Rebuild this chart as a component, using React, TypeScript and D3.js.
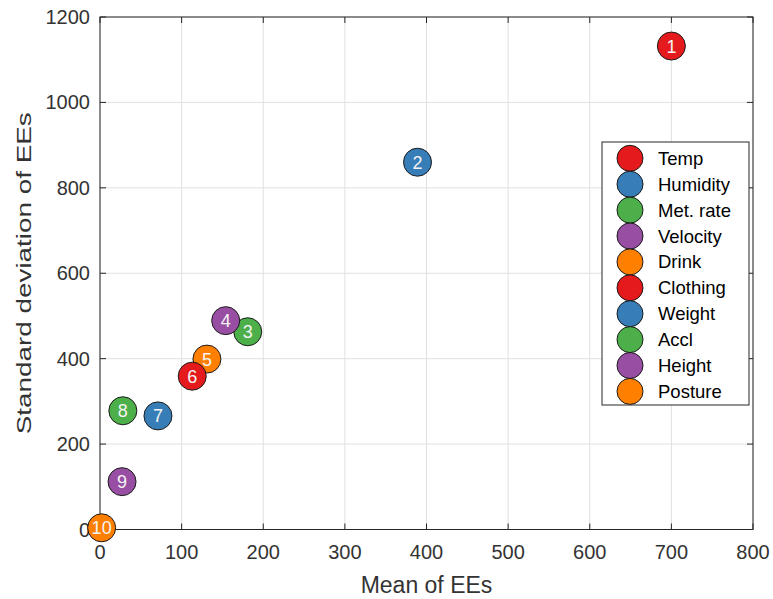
import { useRef, useEffect } from "react";
import * as d3 from "d3";

// factor names, in legend order
const factors = ["Temp", "Humidity", "Met. rate", "Velocity", "Drink", "Clothing", "Weight", "Accl", "Height", "Posture"];
// mean of elementary effects (x)
const meanEE = [700, 389, 181, 154, 131, 113, 71, 28, 27, 2];
// standard deviation of elementary effects (y)
const sdEE = [1132, 860, 463, 489, 399, 359, 266, 278, 112, 4];
const xTicks = [0, 100, 200, 300, 400, 500, 600, 700, 800];
const yTicks = [0, 200, 400, 600, 800, 1000, 1200];
const palette = ["#e41a1c", "#377eb8", "#4daf4a", "#984ea3", "#ff7f00"];

const W = 773;
const H = 599;
const margin = { top: 17, right: 20, bottom: 69.5, left: 100 };
const FONT = "'Liberation Sans', Arial, Helvetica, sans-serif";
const AXIS = "#262626";

export default function App() {
     const svgRef = useRef<SVGSVGElement | null>(null);

     useEffect(() => {
          const svg = d3.select(svgRef.current);
          svg.selectAll("*").remove();

          const x = d3.scaleLinear().domain([0, 800]).range([margin.left, W - margin.right]);
          const y = d3.scaleLinear().domain([0, 1200]).range([H - margin.bottom, margin.top]);
          const [x0, x1] = x.range();
          const [y0, y1] = y.range();

          // grid
          const grid = svg.append("g").attr("stroke", "#e0e0e0").attr("stroke-width", 1);
          grid.selectAll(".gx").data(xTicks).join("line")
               .attr("x1", d => x(d)).attr("x2", d => x(d))
               .attr("y1", y0).attr("y2", y1);
          grid.selectAll(".gy").data(yTicks).join("line")
               .attr("y1", d => y(d)).attr("y2", d => y(d))
               .attr("x1", x0).attr("x2", x1);

          // box + inward ticks on all sides
          const ax = svg.append("g").attr("stroke", AXIS).attr("stroke-width", 1).attr("fill", "none");
          ax.append("rect").attr("x", x0).attr("y", y1).attr("width", x1 - x0).attr("height", y0 - y1);
          const tl = 6;
          xTicks.forEach(t => {
               ax.append("line").attr("x1", x(t)).attr("x2", x(t)).attr("y1", y0).attr("y2", y0 - tl);
               ax.append("line").attr("x1", x(t)).attr("x2", x(t)).attr("y1", y1).attr("y2", y1 + tl);
          });
          yTicks.forEach(t => {
               ax.append("line").attr("y1", y(t)).attr("y2", y(t)).attr("x1", x0).attr("x2", x0 + tl);
               ax.append("line").attr("y1", y(t)).attr("y2", y(t)).attr("x1", x1).attr("x2", x1 - tl);
          });

          // tick labels
          svg.append("g").selectAll("text").data(xTicks).join("text")
               .attr("x", d => x(d)).attr("y", y0 + 29.5)
               .attr("text-anchor", "middle")
               .attr("font-family", FONT).attr("font-size", 20).attr("fill", "#333")
               .text(d => d);
          svg.append("g").selectAll("text").data(yTicks).join("text")
               .attr("x", x0 - 10).attr("y", d => y(d) + 7)
               .attr("text-anchor", "end")
               .attr("font-family", FONT).attr("font-size", 20).attr("fill", "#333")
               .text(d => d);

          // axis labels
          svg.append("text")
               .attr("x", x(400)).attr("y", 593)
               .attr("text-anchor", "middle")
               .attr("font-family", FONT).attr("font-size", 23).attr("fill", "#333")
               .text("Mean of EEs");
          svg.append("text")
               .attr("transform", `translate(31,${(y0 + y1) / 2}) rotate(-90)`)
               .attr("text-anchor", "middle")
               .attr("font-family", FONT).attr("font-size", 21).attr("fill", "#333")
               .attr("textLength", 322).attr("lengthAdjust", "spacingAndGlyphs")
               .text("Standard deviation of EEs");

          // points
          const pts = svg.append("g");
          factors.forEach((_, i) => {
               const g = pts.append("g").attr("transform", `translate(${x(meanEE[i])},${y(sdEE[i])})`);
               g.append("circle").attr("r", 14)
                    .attr("fill", palette[i % palette.length])
                    .attr("stroke", "#1a1a1a").attr("stroke-width", 1);
               g.append("text").attr("y", 6.5)
                    .attr("text-anchor", "middle")
                    .attr("font-family", FONT).attr("font-size", 18).attr("fill", "#f4f4f4")
                    .text(i + 1);
          });

          // legend
          const lg = svg.append("g");
          lg.append("rect").attr("x", 602).attr("y", 142).attr("width", 147).attr("height", 263)
               .attr("fill", "white").attr("stroke", AXIS).attr("stroke-width", 1);
          factors.forEach((name, i) => {
               const cy = 158.3 + i * 25.9;
               lg.append("circle").attr("cx", 630).attr("cy", cy).attr("r", 13)
                    .attr("fill", palette[i % palette.length])
                    .attr("stroke", "#1a1a1a").attr("stroke-width", 1);
               lg.append("text").attr("x", 658).attr("y", cy + 6.5)
                    .attr("font-family", FONT).attr("font-size", 18.5).attr("fill", "#000")
                    .text(name);
          });
     }, []);

     return (
          <svg
               ref={svgRef}
               width={W}
               height={H}
               style={{ position: "absolute", left: 0, top: 0, background: "white" }}
          ></svg>
     );
}
